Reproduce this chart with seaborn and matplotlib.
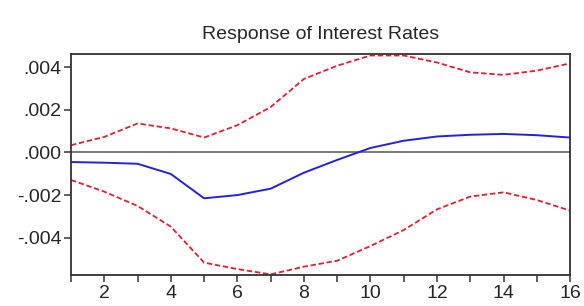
import numpy as np
import pandas as pd
import matplotlib
matplotlib.use("Agg")
import matplotlib.pyplot as plt
import seaborn as sns
from matplotlib.ticker import FuncFormatter, MultipleLocator

# impulse response, periods 1..16
periods = list(range(1, 17))
response = [-0.00045, -0.00048, -0.00053, -0.00101, -0.00215, -0.00200, -0.00170, -0.00095,
            -0.00035, 0.00021, 0.00055, 0.00075, 0.00083, 0.00087, 0.00081, 0.00070]
upper = [0.00034, 0.00073, 0.00136, 0.00113, 0.00070, 0.00128, 0.00213, 0.00345,
         0.00407, 0.00455, 0.00455, 0.00422, 0.00376, 0.00364, 0.00384, 0.00418]
lower = [-0.00129, -0.00184, -0.00251, -0.00348, -0.00517, -0.00547, -0.00572, -0.00536,
         -0.00508, -0.00439, -0.00364, -0.00267, -0.00207, -0.00187, -0.00223, -0.00273]
y_ticks = [-0.004, -0.002, 0.000, 0.002, 0.004]

df = pd.DataFrame({"period": periods, "response": response, "upper": upper, "lower": lower})

sns.set_style("white")
plt.rcParams["font.family"] = ["Liberation Sans", "DejaVu Sans"]

fig = plt.figure(figsize=(5.84, 3.06), dpi=100)
ax = fig.add_axes([0.1216, 0.1013, 0.8545, 0.7222])

ax.axhline(0, color="#555555", lw=1.1, zorder=1)
sns.lineplot(data=df, x="period", y="upper", ax=ax, color="#e0202e", lw=1.3,
             linestyle=(0, (3, 1.5)))
sns.lineplot(data=df, x="period", y="lower", ax=ax, color="#e0202e", lw=1.3,
             linestyle=(0, (3, 1.5)))
sns.lineplot(data=df, x="period", y="response", ax=ax, color="#2222dd", lw=1.4)

ax.set_xlim(1, 16)
ax.set_ylim(-0.00575, 0.00462)
ax.xaxis.set_major_locator(MultipleLocator(2))
ax.xaxis.set_minor_locator(MultipleLocator(1))
ax.set_yticks(y_ticks)

def fmt(v, pos):
    s = "%.3f" % v
    if s.startswith("-0"):
        return "-" + s[2:]
    if s.startswith("0"):
        return s[1:]
    return s

ax.yaxis.set_major_formatter(FuncFormatter(fmt))
ax.tick_params(axis="both", which="major", direction="out", length=5, width=1.1,
               color="#333333", labelsize=14, pad=2, bottom=True, left=True)
ax.tick_params(axis="x", which="minor", direction="out", length=5, width=1.1,
               color="#333333", bottom=True)
ax.set_xlabel("")
ax.set_ylabel("")
for sp in ax.spines.values():
    sp.set_visible(True)
    sp.set_color("#333333")
    sp.set_linewidth(1.3)

ax.set_title("Response of Interest Rates", fontsize=14, pad=11)

fig.savefig("out.png", dpi=100)
